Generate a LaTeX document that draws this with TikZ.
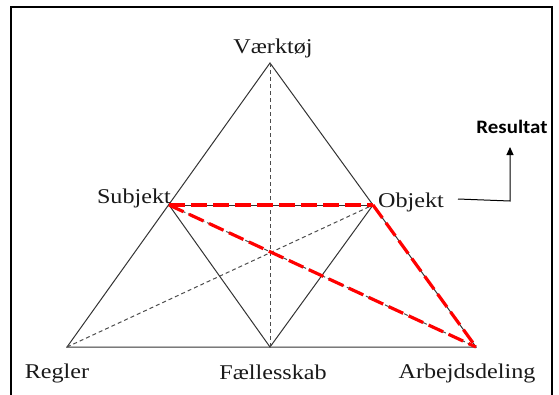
\documentclass[tikz,border=0pt]{standalone}
\usepackage{fontspec}
\setmainfont{Liberation Serif}[FakeStretch=1.15]
\newfontfamily\calib{Carlito}[FakeStretch=1.1]
\usetikzlibrary{arrows.meta}
\begin{document}
\begin{tikzpicture}[x=1pt,y=-1pt,
  solidline/.style={draw=black!80,line width=1pt},
  greydash/.style={draw=black!70,line width=1pt,dash pattern=on 4pt off 3pt},
  reddash/.style={draw=red,line width=3.2pt,dash pattern=on 16pt off 6pt},
  lbl/.style={font=\fontsize{21}{23}\selectfont,text=black!90,inner sep=0pt}]
\useasboundingbox (0,0) rectangle (559,394);
\draw[line width=1.6pt] (11,7) rectangle (552,402);
% vertices
\coordinate (V) at (270,63);
\coordinate (S) at (169,205);
\coordinate (O) at (373,205);
\coordinate (R) at (67,347);
\coordinate (F) at (270,347);
\coordinate (A) at (476,347);
% solid lines
\draw[solidline] (R) -- (V) -- (A) -- cycle;
\draw[solidline] (S) -- (F) -- (O);
\draw[solidline] (S) -- (O);
% grey dashed
\draw[greydash] (V) -- (F);
\draw[greydash] (R) -- (O);
\draw[greydash] (S) -- (A);
% red dashed
\draw[reddash] (S) -- (O);
\draw[reddash] (S) -- (A);
\draw[reddash] (O) -- (A);
% labels
\node[lbl,anchor=base] (lV) at (273,53) {Værktøj};
\node[lbl,anchor=base east] (lS) at (171,203) {Subjekt};
\node[lbl,anchor=base west] (lO) at (378,207) {Objekt};
\node[lbl,anchor=base] (lR) at (57,378) {Regler};
\node[lbl,anchor=base] (lF) at (273,379) {Fællesskab};
\node[lbl,anchor=base] (lA) at (467,378) {Arbejdsdeling};
\node[font=\calib\bfseries\fontsize{19}{21}\selectfont,inner sep=0pt,anchor=base] (res) at (512,133) {Resultat};
\coordinate (c0) at (458,199);
\coordinate (c1) at (510,201);
\coordinate (c2) at (510,147);
\draw[line width=1pt,-{Triangle[length=8pt,width=7pt]}] (c0) -- (c1) -- (c2);
\end{tikzpicture}
\end{document}
